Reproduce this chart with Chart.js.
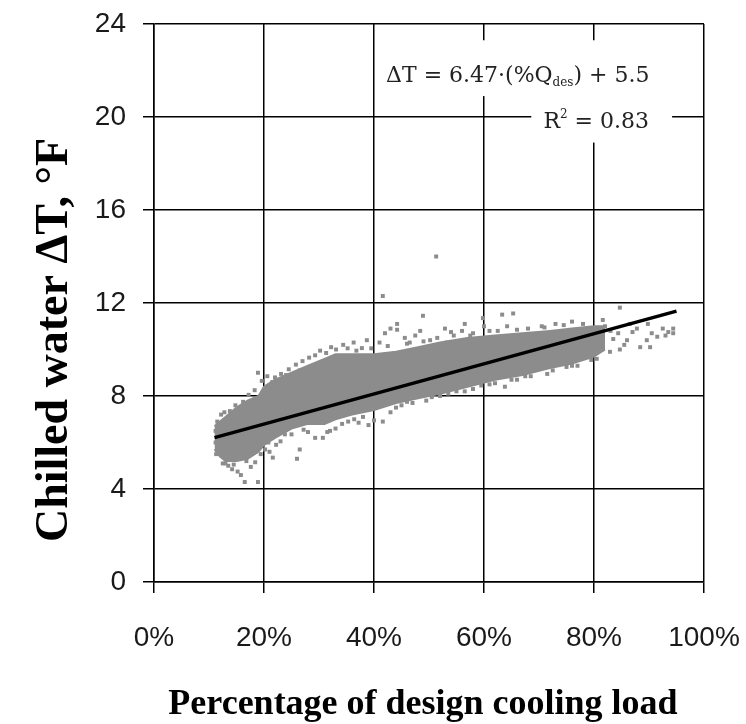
<!DOCTYPE html>
<html>
<head>
<meta charset="utf-8">
<script src="https://cdn.jsdelivr.net/npm/chart.js@4.4.1/dist/chart.umd.min.js"></script>
<style>
  html, body { margin: 0; padding: 0; background: #fff; }
  canvas { display: block; }
</style>
</head>
<body>
<canvas id="scatterchart" width="746" height="724"></canvas>
<script>
// ---- data ----
// x = percentage of design cooling load (%), y = chilled water delta T (F)

// dense part of the cloud: upper and lower edge at a few loads
const bandLoad = [11, 12, 13, 15, 17, 19, 20, 22, 25, 28, 31, 33, 36, 40, 44, 48, 52, 57, 62, 67, 72, 76, 80, 82];
const bandHigh = [6.7, 6.9, 7.1, 7.5, 7.8, 8.0, 8.4, 8.7, 9.0, 9.3, 9.6, 9.8, 9.8, 9.8, 9.9, 10.1, 10.3, 10.5, 10.6, 10.7, 10.8, 10.9, 11.0, 11.0];
const bandLow  = [5.7, 5.4, 5.2, 5.2, 5.3, 5.6, 5.9, 6.2, 6.6, 6.8, 6.8, 7.0, 7.2, 7.4, 7.7, 7.9, 8.1, 8.4, 8.7, 8.9, 9.2, 9.4, 9.7, 10.0];

// single readings around the edges of the cloud
const pointLoad = [
  11.5, 12.2, 11.3, 12.5, 13.5, 14.2, 15.2, 15.8, 16.5, 18.9, 17.6, 18.4, 16.2, 17.2, 18.3, 19.6, 20.6, 18.9, 13.8, 14.8, 21.0, 22.2, 23.0, 21.6, 20.2, 19.4, 12.8,
  11.2, 11.2, 13.0, 14.5, 16.8, 20.8, 23.8, 21.5, 24.0,
  23.1, 24.5, 25.8, 27.0, 28.2, 29.3, 30.2, 31.3, 32.2, 33.1, 34.4, 35.2, 36.3, 37.8, 38.7, 26.5, 22.0,
  25.0, 26.5, 26.0, 28.0, 29.3, 30.7, 32.0, 33.0, 34.2, 35.3, 36.4, 38.0, 40.0, 41.6, 39.0, 31.5, 27.2, 37.2,
  41.6, 51.3, 48.9, 44.2, 44.2, 42.0, 48.4, 52.9, 56.0, 56.5, 59.8, 63.3, 65.3, 66.0, 64.2, 46.5, 50.2, 55.0, 57.5, 41.0, 43.0, 45.6, 53.3, 61.0, 60.0, 47.5, 54.0,
  36.8, 39.5, 42.5, 46.0, 49.0, 51.5, 54.5, 58.0, 62.5, 68.0, 71.0, 74.5,
  43.0, 45.0, 47.0, 49.5, 52.0, 55.0, 58.0, 63.8, 61.0, 66.0, 69.6, 73.8, 77.0, 75.0, 71.5, 67.5,
  44.0, 46.0, 50.5, 53.5, 56.5, 59.5, 62.0, 65.0, 68.5, 72.5, 76.0, 79.5,
  70.5, 73.0, 76.0, 78.0, 84.7, 81.6, 89.8, 87.8, 88.4, 89.6, 90.5, 92.5, 93.0, 93.5, 94.4, 94.4, 90.2, 86.0, 84.4, 82.9, 81.4, 84.7, 87.0, 85.5, 83.5, 80.5, 79.0, 91.5, 86.5, 82.0, 79.5, 83.0
];
const pointDeltaT = [
  6.9, 7.2, 5.5, 5.1, 5.0, 4.85, 4.75, 4.6, 4.3, 4.3, 4.95, 5.15, 7.75, 8.05, 8.25, 8.65, 8.85, 9.0, 7.35, 7.6, 5.6, 5.9, 6.05, 5.35, 5.7, 5.5, 7.3,
  6.5, 6.0, 5.1, 5.05, 5.2, 6.0, 6.35, 8.6, 8.9,
  8.95, 9.15, 9.35, 9.5, 9.65, 9.75, 9.95, 9.85, 10.1, 10.0, 10.2, 10.05, 10.3, 10.06, 10.4, 9.1, 8.8,
  6.35, 5.7, 5.3, 6.45, 6.2, 6.2, 6.5, 6.6, 6.8, 6.9, 7.0, 7.1, 6.95, 6.9, 6.75, 6.45, 6.55, 6.85,
  12.3, 14.0, 11.45, 11.1, 10.85, 10.7, 10.8, 10.9, 10.8, 11.1, 11.35, 11.5, 11.55, 10.85, 11.0, 10.3, 10.4, 10.3, 10.6, 10.3, 10.9, 10.5, 10.3, 10.8, 11.0, 10.6, 10.75,
  9.95, 10.05, 10.15, 10.25, 10.35, 10.5, 10.6, 10.7, 10.8, 10.9, 10.95, 11.05,
  7.3, 7.6, 7.7, 7.8, 8.0, 8.2, 8.3, 8.4, 8.5, 8.7, 9.2, 9.55, 9.3, 9.25, 8.95, 8.85,
  7.5, 7.75, 7.95, 8.1, 8.2, 8.45, 8.55, 8.7, 8.85, 9.1, 9.3, 9.55,
  11.0, 11.1, 11.2, 11.1, 11.8, 11.27, 11.1, 10.9, 10.1, 10.4, 10.7, 10.9, 10.6, 10.75, 10.9, 10.7, 10.1, 10.4, 10.7, 9.9, 10.0, 10.0, 10.75, 10.2, 10.45, 9.6, 9.7, 10.55, 11.1, 11.0, 10.7, 10.8
];

// regression line end points
const fitLoad = [11, 95];
const fitDeltaT = [6.21, 11.65];

const xTicks = [0, 20, 40, 60, 80, 100];
const yTicks = [0, 4, 8, 12, 16, 20, 24];

const equationText = ['\u0394T = 6.47\u00b7(%Q', 'des', ') + 5.5'];
const rSquaredText = ['R', '2', ' = 0.83'];

const gray = '#8c8c8c';

function pairs(xs, ys) {
  return xs.map((x, i) => ({ x: x, y: ys[i] }));
}

// white boxes with the regression text, positioned in data units
const notesPlugin = {
  id: 'notes',
  beforeDatasetsDraw(chart) {
    const c = chart.ctx;
    const xs = chart.scales.x, ys = chart.scales.y;
    c.save();
    c.fillStyle = '#fff';
    // equation box and R2 box
    let l = xs.getPixelForValue(41.2), r = xs.getPixelForValue(91.5);
    let t = ys.getPixelForValue(23.3), b = ys.getPixelForValue(20.9);
    c.fillRect(l, t, r - l, b - t);
    l = xs.getPixelForValue(68.6); r = xs.getPixelForValue(94.2);
    t = ys.getPixelForValue(20.95); b = ys.getPixelForValue(18.9);
    c.fillRect(l, t, r - l, b - t);

    c.fillStyle = '#222';
    c.textBaseline = 'alphabetic';
    c.textAlign = 'left';
    const big = '22px "DejaVu Serif"', small = '12px "DejaVu Serif"';
    let x = xs.getPixelForValue(42.2), y = ys.getPixelForValue(21.5);
    c.font = big; c.fillText(equationText[0], x, y); x += c.measureText(equationText[0]).width;
    c.font = small; c.fillText(equationText[1], x, y + 4); x += c.measureText(equationText[1]).width;
    c.font = big; c.fillText(equationText[2], x, y);

    x = xs.getPixelForValue(70.8); y = ys.getPixelForValue(19.53);
    c.font = big; c.fillText(rSquaredText[0], x, y); x += c.measureText(rSquaredText[0]).width;
    c.font = small; c.fillText(rSquaredText[1], x, y - 10); x += c.measureText(rSquaredText[1]).width;
    c.font = big; c.fillText(rSquaredText[2], x, y);
    c.restore();
  },
  afterDraw(chart) {
    const c = chart.ctx;
    c.save();
    c.fillStyle = '#000';
    c.font = 'bold 36px "Liberation Serif"';
    c.textAlign = 'center';
    c.textBaseline = 'alphabetic';
    c.fillText('Percentage of design cooling load', 423, 714);
    c.translate(67, 340);
    c.rotate(-Math.PI / 2);
    c.font = 'bold 46px "Liberation Serif"';
    c.fillText('Chilled water \u0394T, \u00b0F', 0, 0);
    c.restore();
  }
};

const ctx = document.getElementById('scatterchart').getContext('2d');
const scatterChart = new Chart(ctx, {
  type: 'scatter',
  data: {
    datasets: [
      {
        type: 'line',
        data: pairs(bandLoad, bandLow),
        borderColor: gray,
        borderWidth: 2,
        pointRadius: 0,
        fill: false,
        order: 3
      },
      {
        type: 'line',
        data: pairs(bandLoad, bandHigh),
        borderColor: gray,
        backgroundColor: gray,
        borderWidth: 2,
        pointRadius: 0,
        fill: '-1',
        order: 2
      },
      {
        data: pairs(pointLoad, pointDeltaT),
        pointStyle: 'rect',
        pointRadius: 2.8,
        pointHoverRadius: 2.8,
        backgroundColor: gray,
        borderWidth: 0,
        order: 1
      },
      {
        type: 'line',
        data: pairs(fitLoad, fitDeltaT),
        borderColor: '#000',
        borderWidth: 3.5,
        pointRadius: 0,
        fill: false,
        order: 0
      }
    ]
  },
  options: {
    responsive: false,
    animation: false,
    layout: { padding: { top: 24, right: 42, left: 0, bottom: 0 } },
    plugins: {
      legend: { display: false },
      tooltip: { enabled: false }
    },
    scales: {
      x: {
        type: 'linear',
        min: 0,
        max: 100,
        afterBuildTicks: s => { s.ticks = xTicks.map(v => ({ value: v })); },
        afterFit: s => { s.height = 142; s.paddingLeft = 0; s.paddingRight = 0; },
        ticks: {
          callback: v => v + '%',
          font: { family: '"Liberation Sans"', size: 28 },
          color: '#1a1a1a',
          padding: 28,
          maxRotation: 0
        },
        grid: { color: '#000', lineWidth: 1.5, tickLength: 11, drawTicks: true },
        border: { color: '#000', width: 1.5 }
      },
      y: {
        min: 0,
        max: 24,
        afterBuildTicks: s => { s.ticks = yTicks.map(v => ({ value: v })); },
        afterFit: s => { s.width = 154; s.paddingTop = 0; s.paddingBottom = 0; },
        ticks: {
          font: { family: '"Liberation Sans"', size: 28 },
          color: '#1a1a1a',
          padding: 17
        },
        grid: { color: '#000', lineWidth: 1.5, tickLength: 11, drawTicks: true },
        border: { color: '#000', width: 1.5 }
      }
    }
  },
  plugins: [notesPlugin]
});
</script>
</body>
</html>
